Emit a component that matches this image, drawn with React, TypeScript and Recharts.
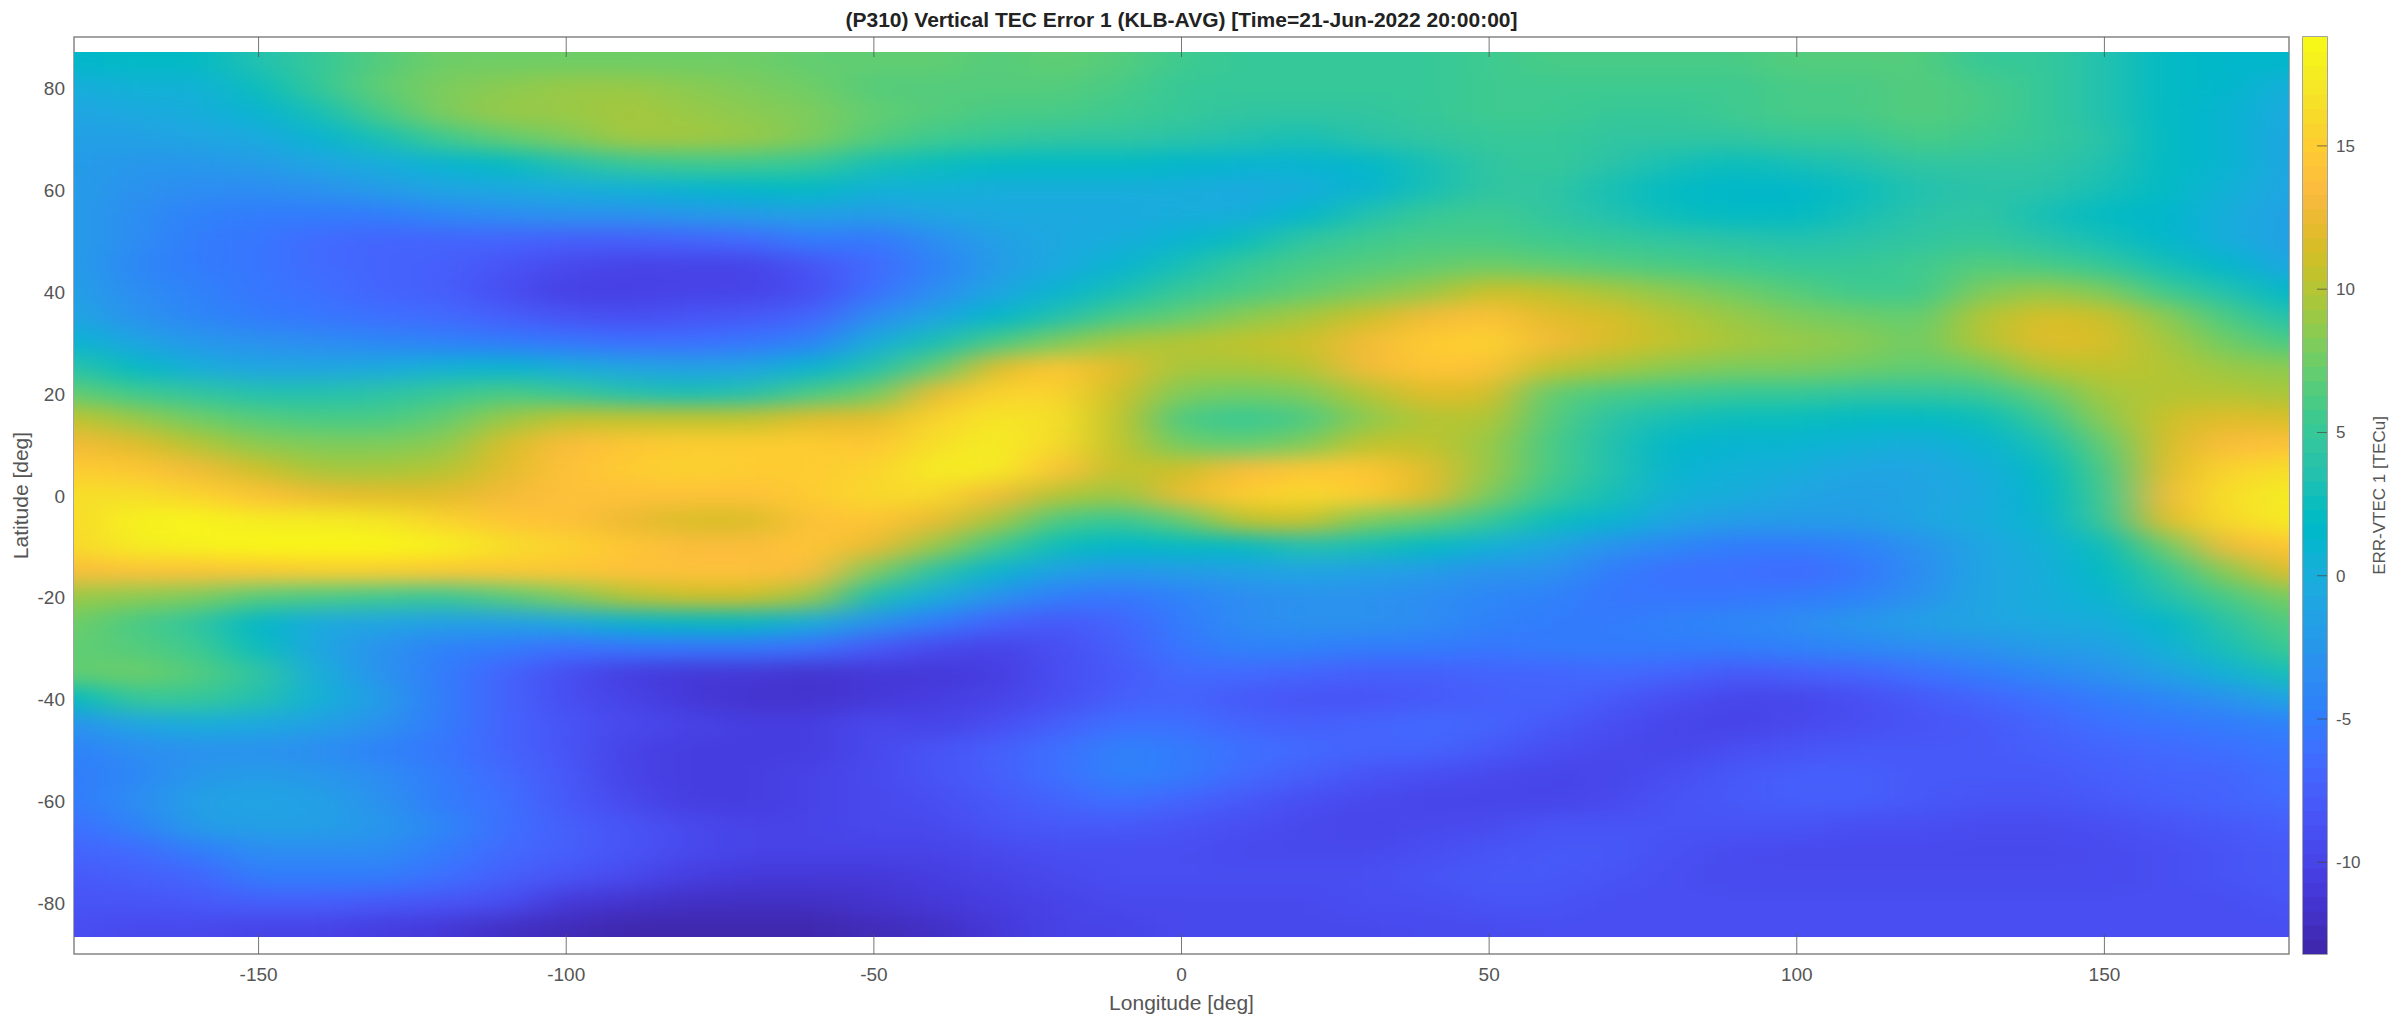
/**
 * Vertical TEC error map, drawn as a blurred grid of cells with a parula colour bar
 */

import { ScatterChart, Scatter, XAxis, YAxis, ReferenceArea } from 'recharts';

// Grid nodes
const lons = [
  -180, -170, -160, -150, -140, -130, -120, -110, -100, -90, -80, -70, -60,
  -50, -40, -30, -20, -10, 0, 10, 20, 30, 40, 50,
  60, 70, 80, 90, 100, 110, 120, 130, 140, 150, 160, 170, 180,
];
const lats = [
  85, 80, 75, 70, 65, 60, 55, 50, 45, 40, 35, 30, 25, 20, 15, 10, 5, 0,
  -5, -10, -15, -20, -25, -30, -35, -40, -45, -50, -55, -60, -65, -70, -75, -80, -85,
];

// ERR-VTEC values per latitude (one value per entry of lons)
const lat85 = [1.5, 2, 2, 3.5, 5, 6.5, 7.5, 7.5, 7.5, 7.5, 7.5, 7.5, 7, 7, 7, 6.5, 7, 6.5, 5.5, 5, 5, 5, 5, 5.5, 6, 6, 6, 6, 6.5, 6.5, 6.5, 5, 5, 3.5, 2, 1.5, 1.5];
const lat80 = [0, 0.5, 0.5, 2.5, 5, 7, 8, 8.5, 9, 9, 8.5, 8, 7.5, 6.5, 6.5, 6.5, 6.5, 6, 5, 5, 5, 5, 5, 5.5, 5.5, 5.5, 5.5, 5.5, 6, 6, 6.5, 6, 5, 3.5, 2, 1.5, 0];
const lat75 = [-1, -0.5, 0, 1, 3, 6, 8, 9, 9, 9.5, 9, 8.5, 8, 7, 6.5, 6, 6, 5.5, 5, 4.5, 4.5, 4.5, 5, 5.5, 5.5, 5, 5, 5.5, 6, 6, 6.5, 6, 5, 3.5, 2, 1, -0.5];
const lat70 = [-1.5, -1.5, -1, -0.5, 1, 3, 5.5, 7, 8, 9.3, 9.3, 9, 8, 6.5, 5.5, 5, 4.5, 4.5, 4, 3.5, 3, 4, 4.5, 5, 5, 4.5, 4.5, 4.5, 5, 5, 6, 5.5, 5, 4, 2, 1, -1];
const lat65 = [-2, -2.5, -2.5, -2, -1, 0, 1, 2, 3.5, 5, 5.5, 5.5, 5, 3, 2.5, 2, 2, 2, 1.5, 1, 1, 1.5, 3, 4.5, 5, 4, 3, 2.5, 3, 3.5, 4.5, 4.5, 4.5, 3.5, 2, 1, -1];
const lat60 = [-2, -3, -3.5, -3.5, -3, -2, -1, -0.5, 0, 0.5, 1, 1.5, 2, 0.5, 0.5, 0, 0, 0, 0, -0.5, 0, 1, 3, 4.5, 4.5, 3, 2, 1.5, 1.5, 2.5, 3.5, 4, 4, 3, 2, 0.5, -1];
const lat55 = [-2, -3.5, -4.5, -5, -5, -5, -4, -3.5, -3, -3, -2.5, -2, -1.5, -2, -1, -0.5, -0.5, -0.5, 0, 0, 1.5, 3.5, 5, 5.5, 4.5, 3.5, 2.5, 2, 2, 3, 4, 4.5, 3, 2, 1.5, 0, -1.5];
const lat50 = [-2, -3.5, -5, -5.5, -6.5, -7, -7, -7, -7.5, -7.5, -7, -6.5, -5, -5.5, -3.5, -1.5, -0.5, 0, 1, 2.5, 4.5, 5.5, 6, 6, 5.5, 5, 4.5, 4, 3.5, 4, 4.5, 5, 4, 3, 1.5, 0, -1.5];
const lat45 = [-2, -4, -5, -5.5, -6.5, -7, -7.5, -8.5, -9.5, -10, -10, -10, -8.5, -6.5, -4.5, -2, -0.5, 1, 3, 5, 6, 6.5, 7, 7.5, 7, 6.5, 6, 5.5, 5, 5, 5.5, 6.5, 6, 5, 3, 1.5, -1];
const lat40 = [-1.5, -3.5, -4.5, -5.5, -6, -7, -7.5, -9, -10.3, -10.3, -10, -10, -9, -6, -3.5, -1, 1, 3, 5, 6, 7, 8, 9, 11, 10.5, 9.5, 8.5, 7.5, 6.5, 5.5, 5.5, 8, 9, 8, 5.5, 3.5, 1.5];
const lat35 = [-1, -3, -4, -5, -5.5, -6, -6.5, -7.5, -8.5, -9, -8.5, -8, -7, -3.5, -1, 1.5, 3.5, 6, 7, 8.5, 9.5, 11, 13, 14, 12, 11.5, 10, 9, 8, 7.5, 7, 10, 11.5, 11, 8.5, 6, 3.5];
const lat30 = [1, -1, -2.5, -3, -3.5, -4, -4.5, -5, -5.5, -6, -6, -5.5, -4.5, 0, 3, 6, 8, 9.5, 10, 10.5, 11, 13, 15, 15.5, 13, 11.5, 10.5, 9.5, 9, 8.5, 7.5, 10, 12, 11.5, 9.5, 7.5, 6];
const lat25 = [4, 2, 0, -1, -1, -0.5, 0.5, 1, 0, -1, -1.5, -1, 1, 3.5, 7, 12, 14.5, 12, 9.5, 9.5, 10, 13, 14.5, 14, 10.5, 9.5, 8.5, 8, 8, 7.5, 7, 7.5, 10, 10.5, 10, 9, 8.5];
const lat20 = [7, 5.5, 4.5, 3.5, 3.5, 4, 5, 6, 5, 3.5, 3, 3.5, 6, 7.5, 12.5, 15.5, 15.5, 11, 8, 7.5, 8, 10, 12, 11.5, 7, 6, 5.5, 5, 5, 4.5, 4.5, 5, 7, 9.5, 10, 10, 9.5];
const lat15 = [10.5, 9, 7.5, 6.5, 6, 6, 7, 9, 10.5, 10.5, 10.5, 10.5, 12, 12, 15.5, 17, 16.5, 10.5, 6, 5, 6, 8.5, 10, 10, 6.5, 4, 3, 2.5, 2.5, 2, 2, 2.5, 5, 8.5, 11, 12, 11.5];
const lat10 = [13, 12, 10, 8.5, 8, 8, 8.5, 11.5, 13.5, 14.5, 15, 15, 15, 14.5, 16.5, 17.5, 16, 10.5, 7.5, 7, 8, 10.5, 10.5, 9, 6, 3.5, 1.5, 1, 1, 0.5, 0, 1, 3, 7, 11.5, 13.5, 14];
const lat5 = [15, 14.5, 13, 11, 9.5, 9.5, 10, 12, 14, 15, 15.5, 15, 15, 15.5, 17.5, 17.5, 14, 10.5, 11, 13.5, 14.5, 14.5, 12, 9, 6, 3.5, 1, 0.5, 0, -1, -1, 0, 2, 6, 12, 15.5, 16.5];
const lat0 = [16.5, 16.5, 15.5, 14, 12.5, 12, 12, 13, 14, 14, 14, 14, 15, 16, 16, 13, 10, 9, 12.5, 15, 16, 15, 12, 8, 5, 3, 0.5, 0, -1, -1.5, -1, -0.5, 1.5, 5.5, 13, 16.5, 17.5];
const latS5 = [16, 18, 18.3, 17.5, 17.5, 17, 15.5, 14.5, 14, 12.5, 11.5, 11.5, 14, 14.5, 12.5, 9.5, 6, 5, 7, 10.5, 11, 8, 7, 5, 2.5, 1, -1, -2, -2, -2, -1, 0, 1, 5, 12, 16, 17.5];
const latS10 = [16, 17.5, 18, 18.5, 18.5, 18.5, 18, 16.5, 15.5, 14.5, 13.5, 13.5, 14.5, 12.5, 9, 5.5, 2.5, 1.5, 2, 2, 3.5, 3, 2, 0.5, -1, -3, -4, -5, -5, -4.5, -3, -1, 0.5, 2.5, 7.5, 13, 14.5];
const latS15 = [13.5, 14, 14, 14.5, 15, 15, 14.5, 14.5, 14.5, 14, 14, 14, 13.5, 8, 4, 1, -1.5, -2.5, -2, -1.5, -1, -1.5, -2, -3, -3, -5, -6, -6, -6.5, -5.5, -3.5, -1, 0, 2, 5, 8.5, 12];
const latS20 = [9, 8.5, 8, 6.5, 6, 5.5, 5, 6.5, 8, 10, 11, 11, 9, 3, 0, -3, -5, -5.5, -4.5, -3.5, -3, -3, -3.5, -4, -4.5, -5.5, -5.5, -5.5, -5, -4.5, -3, -1, 0, 1, 3.5, 6, 8];
const latS25 = [7.5, 6, 4.5, 1.5, -0.5, -1, -1.5, -1.5, -0.5, 1, 2, 2, 0, -3, -5, -7, -8, -7, -5, -3.5, -3, -3, -3.5, -4.5, -5, -5, -4.5, -4, -3.5, -2.5, -1.5, -1, -0.5, 0, 1.5, 4, 6.5];
const latS30 = [7, 6.5, 5.5, 2.5, -1, -3, -4.5, -5, -6, -5.5, -5.5, -5.5, -6, -8, -9.5, -10, -9, -7.5, -5.5, -4.5, -4.5, -5, -5, -5.5, -5, -5, -5, -5, -4.5, -4, -3.5, -3, -2, -1.5, 0.5, 3, 5.5];
const latS35 = [7, 7.5, 6.5, 4.5, 0, -3, -5, -7, -9, -10.5, -11, -11, -11.5, -11, -11, -10.5, -9, -8, -6.5, -6.5, -7, -7.5, -7.5, -7, -7, -6.5, -7, -8, -7.5, -7, -6, -5, -4, -3, -1.5, 0.5, 3];
const latS40 = [2, 5, 5, 3.5, 0.5, -2, -5, -7, -9, -10, -11, -11.5, -11.5, -11, -10.5, -10, -9, -7.5, -7, -8, -8.5, -8.5, -8, -7.5, -7, -8, -9, -9.7, -9.7, -9, -8, -7, -6, -5, -4, -3, -1];
const latS45 = [-3, -1, 0, -0.5, -1.5, -3, -5, -7, -8.5, -9.5, -10, -10.5, -10.5, -9.5, -10, -9, -7.5, -6, -6, -7, -7.5, -7, -6.5, -7, -8, -9, -9.7, -10, -9.5, -9, -8.5, -8, -7, -6, -5.5, -5, -4.5];
const latS50 = [-4.5, -3.5, -3, -3, -3.5, -4.5, -5.5, -7, -8.5, -10, -10.5, -10.5, -10.5, -9.5, -8.5, -7.5, -6, -4.5, -5, -6, -6.5, -7, -7, -8, -9, -9.5, -9.7, -9, -8.5, -8, -8, -8, -7.5, -7, -6.5, -6, -5.5];
const latS55 = [-5, -4, -2.5, -2, -2.5, -3.5, -5, -6.5, -8, -10, -10.5, -10.5, -10, -9.5, -8.5, -7.5, -6, -4.5, -5, -6.5, -7.5, -8.5, -9, -9.5, -9.8, -9.7, -9, -8, -7.5, -7.5, -8, -8, -8, -7.5, -7, -7, -6];
const latS60 = [-5, -3.5, -1.5, -1, -1.5, -3, -5, -6, -8, -9.5, -10.5, -10.5, -10, -9.5, -9, -8, -7, -6, -7, -8, -9, -9.5, -9.8, -9.8, -9.8, -9.5, -8.5, -8, -7.5, -7.5, -8, -8.5, -8.5, -8, -7.5, -7, -6.5];
const latS65 = [-6, -4.5, -2, -1.5, -1.5, -2.5, -4, -6, -7.5, -8.5, -9.5, -10, -10, -9.5, -9.5, -8.5, -8, -8, -8.5, -9, -9.5, -9.8, -9.5, -9.3, -8.5, -8.5, -8.5, -8.5, -8.5, -9, -9, -9.3, -9.3, -9, -8.5, -8, -7.5];
const latS70 = [-7, -6.5, -5, -3.5, -3.5, -3.5, -5, -6.5, -7.5, -8.5, -9.5, -10, -10, -10, -10, -9.5, -9, -9, -9, -9.5, -9.5, -9.5, -9, -8.5, -8, -8, -8.8, -9.3, -9.5, -9.5, -9.5, -9.5, -9.5, -9.3, -9, -8.5, -8];
const latS75 = [-8, -7.5, -7, -5, -5, -5, -6, -7.5, -8.5, -9.5, -10.5, -11, -11, -11, -10.5, -10, -9.5, -9, -9, -9, -9, -9, -8.5, -8, -8, -8.5, -9, -9.3, -9.3, -9.3, -9.3, -9.3, -9.3, -9.3, -9, -8.5, -8];
const latS80 = [-8.5, -8.5, -8, -7.5, -7.5, -8, -8.5, -9, -11, -11.5, -12, -12, -12, -11.5, -11, -10.5, -10, -9.5, -9.5, -9.5, -9.5, -9, -9, -8.5, -8.5, -9, -9, -9, -9, -9, -9, -9, -9, -9, -9, -9, -8.5];
const latS85 = [-9, -9.5, -9.5, -10, -10, -10.5, -11, -12, -12.5, -13, -13, -13, -13, -12.5, -12, -11, -10, -10, -9.5, -9.5, -9.5, -9.5, -9.3, -9.3, -9, -9, -9, -9, -9, -9, -9, -9, -9, -9, -9, -9, -9];

const rows = [
  lat85, lat80, lat75, lat70, lat65, lat60, lat55, lat50, lat45, lat40, lat35, lat30,
  lat25, lat20, lat15, lat10, lat5, lat0, latS5, latS10, latS15, latS20, latS25, latS30,
  latS35, latS40, latS45, latS50, latS55, latS60, latS65, latS70, latS75, latS80, latS85,
];

const lonTicks = [-150, -100, -50, 0, 50, 100, 150];
const latTicks = [-80, -60, -40, -20, 0, 20, 40, 60, 80];
const barTicks = [-10, -5, 0, 5, 10, 15];

const TITLE = '(P310) Vertical TEC Error 1 (KLB-AVG) [Time=21-Jun-2022 20:00:00]';

// MATLAB parula, 64 levels
const PARULA = [
  [0.2422, 0.1504, 0.6603], [0.2504, 0.165, 0.7076], [0.2578, 0.1818, 0.7511], [0.2647, 0.1978, 0.7952],
  [0.2706, 0.2147, 0.8364], [0.2751, 0.2342, 0.871], [0.2783, 0.2559, 0.8991], [0.2803, 0.2782, 0.9221],
  [0.2813, 0.3006, 0.9414], [0.281, 0.3228, 0.9579], [0.2795, 0.3447, 0.9717], [0.276, 0.3667, 0.9829],
  [0.2699, 0.3892, 0.9906], [0.2602, 0.4123, 0.9952], [0.244, 0.4358, 0.9988], [0.2206, 0.4603, 0.9973],
  [0.1963, 0.4847, 0.9892], [0.1834, 0.5074, 0.9798], [0.1786, 0.5289, 0.9682], [0.1764, 0.5499, 0.952],
  [0.1687, 0.5703, 0.9359], [0.154, 0.5902, 0.9218], [0.146, 0.6091, 0.9079], [0.138, 0.6276, 0.8973],
  [0.1248, 0.6459, 0.8883], [0.1113, 0.6635, 0.8763], [0.0952, 0.6798, 0.8598], [0.0689, 0.6948, 0.8394],
  [0.0297, 0.7082, 0.8163], [0.0036, 0.7203, 0.7917], [0.0067, 0.7312, 0.766], [0.0433, 0.7411, 0.7394],
  [0.0964, 0.75, 0.712], [0.1408, 0.7584, 0.6842], [0.1717, 0.767, 0.6554], [0.1938, 0.7758, 0.6251],
  [0.2161, 0.7843, 0.5923], [0.247, 0.7918, 0.5567], [0.2906, 0.7973, 0.5188], [0.3406, 0.8008, 0.4789],
  [0.3909, 0.8029, 0.4354], [0.4456, 0.8024, 0.3909], [0.5044, 0.7993, 0.348], [0.5616, 0.7942, 0.3045],
  [0.6174, 0.7876, 0.2612], [0.672, 0.7793, 0.2227], [0.7242, 0.7698, 0.191], [0.7738, 0.7598, 0.1646],
  [0.8203, 0.7498, 0.1535], [0.8634, 0.7406, 0.1596], [0.9035, 0.733, 0.1774], [0.9393, 0.7288, 0.21],
  [0.9728, 0.7298, 0.2394], [0.9956, 0.7434, 0.2371], [0.997, 0.7659, 0.2199], [0.9952, 0.7861, 0.1999],
  [0.9892, 0.8136, 0.1885], [0.9786, 0.8386, 0.1766], [0.9676, 0.8639, 0.1643], [0.961, 0.889, 0.1537],
  [0.9597, 0.9135, 0.1423], [0.9628, 0.9373, 0.1265], [0.9691, 0.9606, 0.1064], [0.9769, 0.9839, 0.0805],
];

const C_MIN = -13.2;
const C_MAX = 18.8;

const colorOf = (value: number) => {
  const t = Math.max(0, Math.min(1, (value - C_MIN) / (C_MAX - C_MIN))) * 63;
  const i = Math.min(62, Math.floor(t));
  const f = t - i;
  const [r, g, b] = PARULA[i].map((c, k) => Math.round((c + (PARULA[i + 1][k] - c) * f) * 255));
  return `rgb(${r},${g},${b})`;
};

const heatData = rows.flatMap((row, r) =>
  row.map((value, c) => ({ lon: lons[c], lat: lats[r], value }))
);
const barData = PARULA.map((_, i) => ({
  x: 0.5,
  y: C_MIN + ((i + 0.5) / 64) * (C_MAX - C_MIN),
}));

// Layout of the reference figure
const WIDTH = 2395;
const HEIGHT = 1015;
const PLOT_LEFT = 74;
const PLOT_RIGHT = 2289;
const PLOT_TOP = 37;
const PLOT_BOTTOM = 954;
const IMG_TOP = 52;
const IMG_BOTTOM = 937;
const BAR_LEFT = 2303;
const BAR_RIGHT = 2327;
const BAR_CHART_WIDTH = WIDTH - BAR_LEFT + 3;

const PX_PER_LON = (PLOT_RIGHT - PLOT_LEFT) / 360;
const PX_PER_LAT = (PLOT_BOTTOM - PLOT_TOP) / 180;
const CELL_W = PX_PER_LON * 10;
const CELL_H = PX_PER_LAT * 5;
const EDGE = 80; // edge cells run past the clip so the blur does not fade out

const FONT = '"Liberation Sans", Arial, sans-serif';
const TEXT_COLOR = '#555555';
const BOX_COLOR = '#858585';
const TICK_COLOR = '#555555';

const HeatCell = (props: any) => {
  const { cx, cy, payload } = props;
  const left = payload.lon === -180 ? EDGE : CELL_W / 2;
  const right = payload.lon === 180 ? EDGE : CELL_W / 2;
  const top = payload.lat === 85 ? EDGE : CELL_H / 2;
  const bottom = payload.lat === -85 ? EDGE : CELL_H / 2;
  return (
    <rect
      x={cx - left - 0.5}
      y={cy - top - 0.5}
      width={left + right + 1}
      height={top + bottom + 1}
      fill={colorOf(payload.value)}
    />
  );
};

const BarCell = (props: any) => {
  const { cy, payload } = props;
  const h = ((PLOT_BOTTOM - PLOT_TOP) / 64) + 1;
  return (
    <rect x={3} y={cy - h / 2} width={BAR_RIGHT - BAR_LEFT} height={h} fill={colorOf(payload.y)} />
  );
};

// Inward ticks on both the bottom and the top edge of the box, plus the label
const LonTick = ({ x, payload }: any) => (
  <g>
    <line x1={x} x2={x} y1={PLOT_BOTTOM} y2={PLOT_BOTTOM - 20} stroke={TICK_COLOR} strokeOpacity={0.8} />
    <line x1={x} x2={x} y1={PLOT_TOP} y2={PLOT_TOP + 20} stroke={TICK_COLOR} strokeOpacity={0.8} />
    <text x={x} y={981} textAnchor="middle" fontSize={19} fontFamily={FONT} fill={TEXT_COLOR}>
      {payload.value}
    </text>
  </g>
);

const LatTick = ({ y, payload }: any) => (
  <text x={65} y={y + 7} textAnchor="end" fontSize={19} fontFamily={FONT} fill={TEXT_COLOR}>
    {payload.value}
  </text>
);

const BarTick = ({ y, payload }: any) => (
  <g>
    <line x1={BAR_RIGHT - BAR_LEFT + 3 - 10} x2={BAR_RIGHT - BAR_LEFT + 3} y1={y} y2={y} stroke="#444444" strokeOpacity={0.7} />
    <text x={BAR_RIGHT - BAR_LEFT + 3 + 9} y={y + 6} textAnchor="start" fontSize={17} fontFamily={FONT} fill={TEXT_COLOR}>
      {payload.value}
    </text>
  </g>
);

export default function App() {
  return (
    <div style={{ position: 'absolute', left: 0, top: 0, width: WIDTH, height: HEIGHT, background: '#fff' }}>
      <style>{`.heat-layer { filter: url(#heatBlur); clip-path: url(#heatClip); }`}</style>
      <svg width={0} height={0} style={{ position: 'absolute' }}>
        <defs>
          <filter
            id="heatBlur"
            filterUnits="userSpaceOnUse"
            x={-100}
            y={-100}
            width={WIDTH + 200}
            height={HEIGHT + 200}
            colorInterpolationFilters="sRGB"
          >
            <feGaussianBlur stdDeviation="26 10" />
          </filter>
          <clipPath id="heatClip" clipPathUnits="userSpaceOnUse">
            <rect x={PLOT_LEFT} y={IMG_TOP} width={PLOT_RIGHT - PLOT_LEFT} height={IMG_BOTTOM - IMG_TOP} />
          </clipPath>
        </defs>
      </svg>

      <div style={{ position: 'absolute', left: 0, top: 0 }}>
        <ScatterChart
          width={WIDTH}
          height={HEIGHT}
          margin={{ top: 0, right: WIDTH - PLOT_RIGHT, bottom: 0, left: 0 }}
        >
          <XAxis
            xAxisId="bottom"
            type="number"
            dataKey="lon"
            domain={[-180, 180]}
            ticks={lonTicks}
            height={HEIGHT - PLOT_BOTTOM}
            axisLine={false}
            tickLine={false}
            tick={LonTick}
            interval={0}
            label={{
              value: 'Longitude [deg]',
              position: 'insideBottom',
              offset: 5,
              fontSize: 21,
              fontFamily: FONT,
              fill: TEXT_COLOR,
            }}
          />
          <XAxis
            xAxisId="top"
            orientation="top"
            type="number"
            domain={[-180, 180]}
            height={PLOT_TOP}
            axisLine={false}
            tickLine={false}
            tick={false}
            label={{
              value: TITLE,
              position: 'insideTop',
              offset: 12,
              fontSize: 21,
              fontWeight: 700,
              fontFamily: FONT,
              fill: '#222222',
            }}
          />
          <YAxis
            yAxisId="left"
            type="number"
            dataKey="lat"
            domain={[-90, 90]}
            ticks={latTicks}
            width={PLOT_LEFT}
            axisLine={false}
            tickLine={false}
            tick={LatTick}
            interval={0}
            label={{
              value: 'Latitude [deg]',
              angle: -90,
              position: 'insideLeft',
              offset: 21,
              style: { textAnchor: 'middle' },
              fontSize: 21,
              fontFamily: FONT,
              fill: TEXT_COLOR,
            }}
          />
          <Scatter
            data={heatData}
            xAxisId="bottom"
            yAxisId="left"
            className="heat-layer"
            shape={HeatCell}
            isAnimationActive={false}
          />
          <ReferenceArea
            xAxisId="bottom"
            yAxisId="left"
            x1={-180}
            x2={180}
            y1={-90}
            y2={90}
            fill="none"
            stroke={BOX_COLOR}
            strokeWidth={1.5}
          />
        </ScatterChart>
      </div>

      <div style={{ position: 'absolute', left: BAR_LEFT - 3, top: 0 }}>
        <ScatterChart
          width={BAR_CHART_WIDTH}
          height={HEIGHT}
          margin={{ top: PLOT_TOP, right: 0, bottom: HEIGHT - PLOT_BOTTOM, left: 3 }}
        >
          <XAxis type="number" dataKey="x" domain={[0, 1]} hide />
          <YAxis
            type="number"
            dataKey="y"
            orientation="right"
            domain={[C_MIN, C_MAX]}
            allowDataOverflow
            ticks={barTicks}
            width={WIDTH - BAR_RIGHT}
            axisLine={false}
            tickLine={false}
            tick={BarTick}
            interval={0}
            label={{
              value: 'ERR-VTEC 1 [TECu]',
              angle: -90,
              position: 'insideRight',
              offset: 16,
              style: { textAnchor: 'middle' },
              fontSize: 17,
              fontFamily: FONT,
              fill: TEXT_COLOR,
            }}
          />
          <Scatter data={barData} shape={BarCell} isAnimationActive={false} />
          <ReferenceArea x1={0} x2={1} y1={C_MIN} y2={C_MAX} fill="none" stroke={BOX_COLOR} strokeWidth={1.5} />
        </ScatterChart>
      </div>
    </div>
  );
}
